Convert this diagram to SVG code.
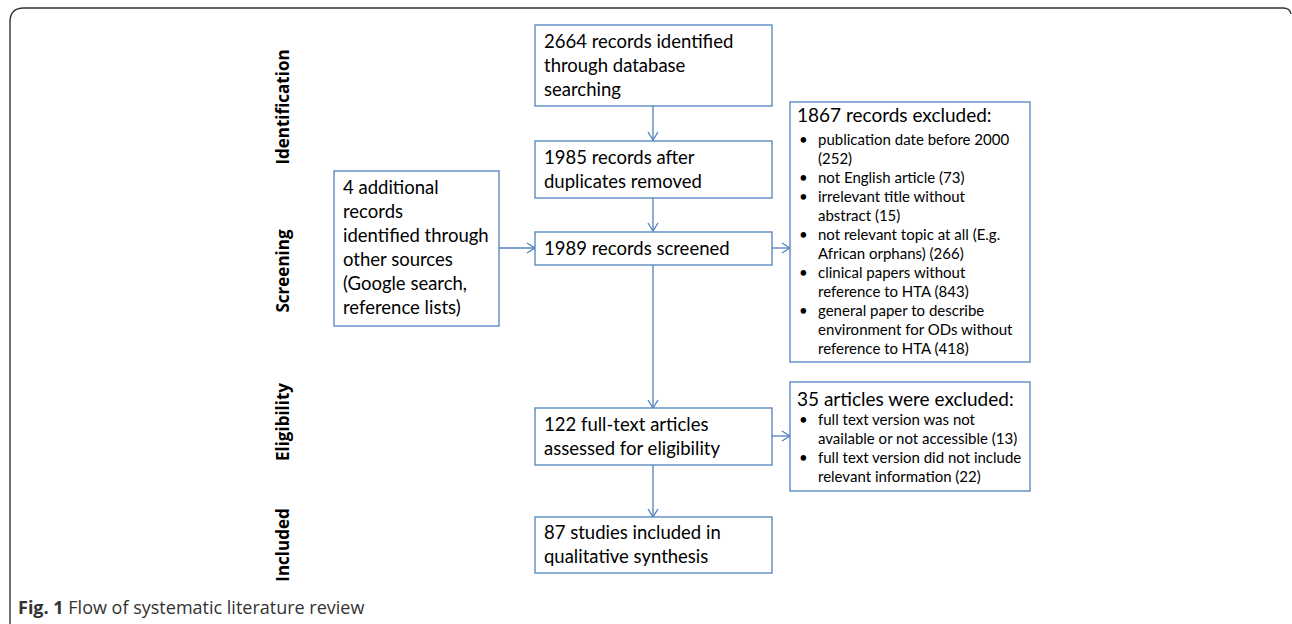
<svg xmlns="http://www.w3.org/2000/svg" width="1292" height="624" viewBox="0 0 1292 624">
<defs>
<style>
.box{fill:#fff;stroke:#4f81bd;stroke-width:1.3}
.t{font-family:Lato,"Liberation Sans",sans-serif;font-size:18.5px;fill:#000}
.tt{font-family:Lato,"Liberation Sans",sans-serif;font-size:19px;fill:#000}
.b{font-family:Lato,"Liberation Sans",sans-serif;font-size:15px;fill:#000}
.lab{font-family:"Open Sans","DejaVu Sans",sans-serif;font-size:17px;font-weight:bold;fill:#000}
.cap{font-family:"Open Sans","Liberation Sans",sans-serif;font-size:18px;fill:#333}
.con{stroke:#4f81bd;stroke-width:1.3;fill:none}
</style>
<marker id="arr" markerWidth="12" markerHeight="12" refX="10" refY="6" orient="auto" markerUnits="userSpaceOnUse">
<path d="M2,1 L10,6 L2,11" fill="none" stroke="#4f81bd" stroke-width="1.3"/>
</marker>
</defs>
<rect width="1292" height="624" fill="#fff"/>
<path d="M10,624 L10,22 Q10,8 24,8 L1283,8 Q1290,8 1291,14" fill="none" stroke="#333" stroke-width="1.4"/>

<g id="labels">
<text class="lab" transform="translate(289,107) rotate(-90)" text-anchor="middle">Identification</text>
<text class="lab" transform="translate(289,271) rotate(-90)" text-anchor="middle">Screening</text>
<text class="lab" transform="translate(289,422) rotate(-90)" text-anchor="middle">Eligibility</text>
<text class="lab" transform="translate(289,545) rotate(-90)" text-anchor="middle">Included</text>
</g>

<g id="connectors">
<line class="con" x1="653" y1="106" x2="653" y2="140" marker-end="url(#arr)"/>
<line class="con" x1="653" y1="198" x2="653" y2="231" marker-end="url(#arr)"/>
<line class="con" x1="499" y1="248" x2="535" y2="248" marker-end="url(#arr)"/>
<line class="con" x1="772" y1="248" x2="790" y2="248" marker-end="url(#arr)"/>
<line class="con" x1="653" y1="265" x2="653" y2="408" marker-end="url(#arr)"/>
<line class="con" x1="772" y1="436" x2="790" y2="436" marker-end="url(#arr)"/>
<line class="con" x1="653" y1="465" x2="653" y2="517" marker-end="url(#arr)"/>
</g>

<g id="n-identified">
<rect class="box" x="535" y="25" width="237" height="81"/>
<text class="t" x="544" y="48">2664 records identified</text>
<text class="t" x="544" y="72">through database</text>
<text class="t" x="544" y="96">searching</text>
</g>

<g id="n-duplicates">
<rect class="box" x="535" y="141" width="237" height="57"/>
<text class="t" x="544" y="164">1985 records after</text>
<text class="t" x="544" y="188">duplicates removed</text>
</g>

<g id="n-screened">
<rect class="box" x="535" y="232" width="237" height="33"/>
<text class="t" x="544" y="255">1989 records screened</text>
</g>

<g id="n-additional">
<rect class="box" x="334" y="171" width="165" height="155"/>
<text class="t" x="343" y="194">4 additional</text>
<text class="t" x="343" y="218">records</text>
<text class="t" x="343" y="242">identified through</text>
<text class="t" x="343" y="266">other sources</text>
<text class="t" x="343" y="290">(Google search,</text>
<text class="t" x="343" y="314">reference lists)</text>
</g>

<g id="n-excluded1">
<rect class="box" x="790" y="102" width="240" height="260"/>
<text class="tt" x="797" y="122">1867 records excluded:</text>
<g class="b">
<text x="799" y="145">•</text><text x="818" y="145">publication date before 2000</text>
<text x="818" y="164">(252)</text>
<text x="799" y="183">•</text><text x="818" y="183">not English article (73)</text>
<text x="799" y="202">•</text><text x="818" y="202">irrelevant title without</text>
<text x="818" y="221">abstract (15)</text>
<text x="799" y="240">•</text><text x="818" y="240">not relevant topic at all (E.g.</text>
<text x="818" y="259">African orphans) (266)</text>
<text x="799" y="278">•</text><text x="818" y="278">clinical papers without</text>
<text x="818" y="297">reference to HTA (843)</text>
<text x="799" y="316">•</text><text x="818" y="316">general paper to describe</text>
<text x="818" y="335">environment for ODs without</text>
<text x="818" y="354">reference to HTA (418)</text>
</g>
</g>

<g id="n-fulltext">
<rect class="box" x="535" y="408" width="237" height="57"/>
<text class="t" x="544" y="431">122 full-text articles</text>
<text class="t" x="544" y="455">assessed for eligibility</text>
</g>

<g id="n-excluded2">
<rect class="box" x="790" y="382" width="240" height="109"/>
<text class="tt" x="797" y="406">35 articles were excluded:</text>
<g class="b">
<text x="799" y="425">•</text><text x="818" y="425">full text version was not</text>
<text x="818" y="444">available or not accessible (13)</text>
<text x="799" y="463">•</text><text x="818" y="463">full text version did not include</text>
<text x="818" y="482">relevant information (22)</text>
</g>
</g>

<g id="n-included">
<rect class="box" x="535" y="517" width="237" height="56"/>
<text class="t" x="544" y="539">87 studies included in</text>
<text class="t" x="544" y="563">qualitative synthesis</text>
</g>

<text class="cap" x="18" y="614"><tspan font-weight="bold">Fig. 1</tspan> Flow of systematic literature review</text>
</svg>
